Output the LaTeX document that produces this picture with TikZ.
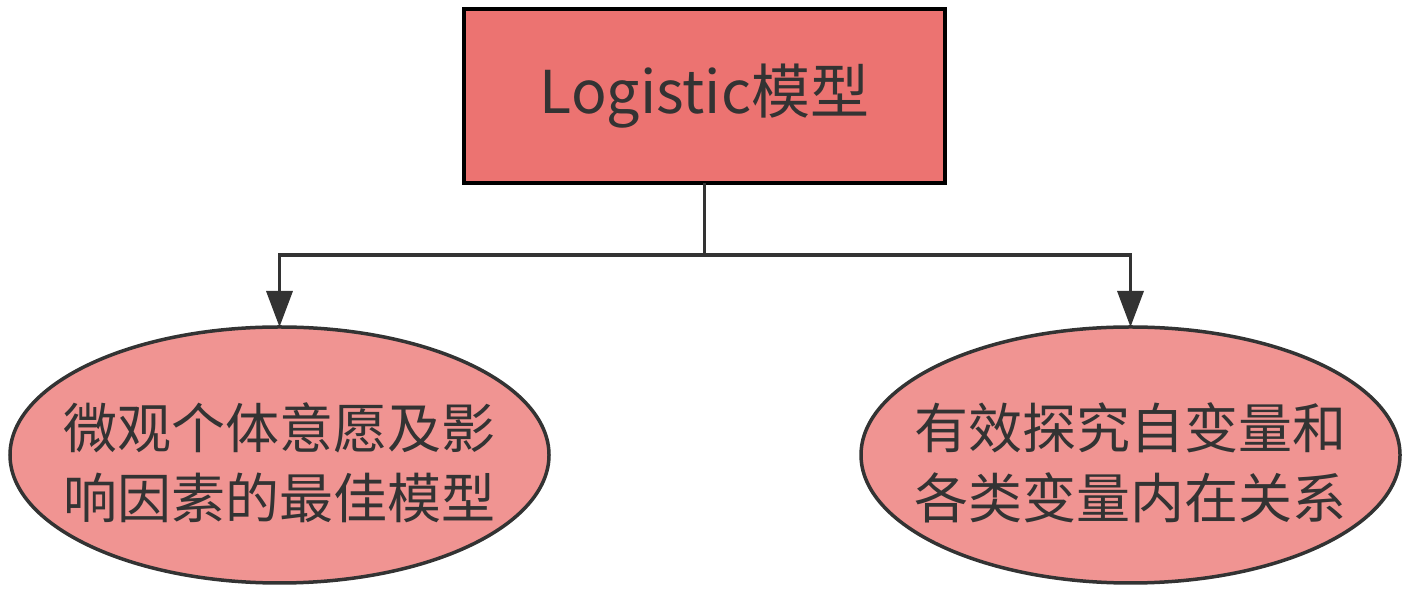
\documentclass[tikz,border=0pt]{standalone}
\usepackage{fontspec}
\setmainfont{Noto Sans CJK SC}
\usetikzlibrary{shapes.geometric,arrows.meta}
\definecolor{boxfill}{HTML}{EC7371}
\definecolor{ellfill}{HTML}{F09492}
\definecolor{ink}{HTML}{333333}
\tikzset{
  topbox/.style={draw=black, line width=4pt, fill=boxfill, minimum width=481pt, minimum height=174pt, inner sep=0pt, outer sep=0pt, text=ink, font=\fontsize{59}{70}\selectfont},
  leafell/.style={ellipse, draw=ink, line width=3.5pt, fill=ellfill, minimum width=539pt, minimum height=256pt, inner sep=0pt, outer sep=0pt},
  leaftext/.style={text=ink, align=center, inner sep=0pt, yshift=-8pt, font=\fontsize{54}{70}\selectfont},
  conn/.style={draw=ink, line width=3.5pt},
  arr/.style={conn, -{Triangle[length=36pt,width=26pt]}}
}
\begin{document}
\begin{tikzpicture}[x=1pt,y=1pt]
\useasboundingbox (0,0) rectangle (1407,596);
\node[topbox] (top) at (704.5,500) {Logistic模型};
\node[leafell, label={[leaftext]center:微观个体意愿及影\\响因素的最佳模型}] (left) at (279.5,141) {};
\node[leafell, label={[leaftext]center:有效探究自变量和\\各类变量内在关系}] (right) at (1130.5,141) {};
\coordinate (j) at (704.5,341);
\draw[conn] (top.south) -- (j);
\draw[arr] (j) -| (left.north);
\draw[arr] (j) -| (right.north);
\end{tikzpicture}
\end{document}
